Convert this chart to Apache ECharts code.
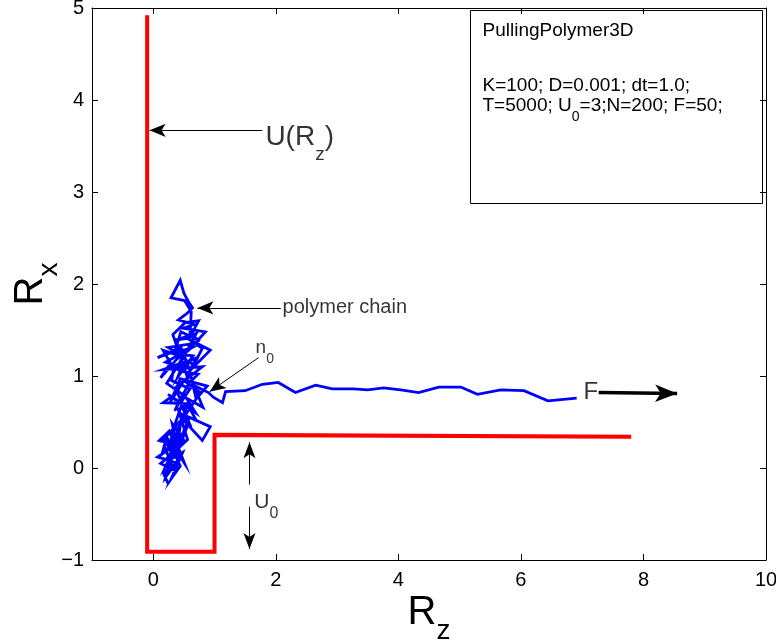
<!DOCTYPE html>
<html>
<head>
<meta charset="utf-8">
<script src="https://cdn.jsdelivr.net/npm/echarts@6/dist/echarts.min.js"></script>
<style>
  html, body { margin: 0; padding: 0; background: #fff; }
  #chart { width: 776px; height: 640px; }
</style>
</head>
<body>
<div id="chart"></div>
<script>
const FONT = '"Liberation Sans", Arial, Helvetica, sans-serif';

// Axis ticks
const xTicks = [0, 2, 4, 6, 8, 10];

// Potential profile U(Rz): wall, well floor, step, plateau
const wellZ = [-0.1, -0.1, 1.0, 1.0, 7.8];
const wellX = [4.92, -0.91, -0.91, 0.36, 0.34];

// Polymer chain conformation: Rz and Rx of each monomer
const chainZ = [
  // coiled part inside the well
  0.25, 0.16, 0.36, 0.07, 0.30, 0.15, 0.22, 0.44, 0.29, 0.48,
  0.27, 0.41, 0.21, 0.46, 0.14, 0.37, 0.24, 0.53, 0.36, 0.43,
  0.18, 0.33, 0.12, 0.39, 0.26, 0.10, 0.34, 0.20, 0.42, 0.31,
  0.50, 0.28, 0.45, 0.40, 0.59, 0.93, 0.80, 0.52, 0.41, 0.56,
  0.37, 0.51, 0.31, 0.46, 0.62, 0.48, 0.70, 0.55,
  0.16, 0.39, 0.55, 0.77, 0.50, 0.28, 0.44, 0.88, 0.70, 0.61,
  0.34, 0.80, 0.16, 0.50, 0.40, 0.65, 0.28, 0.07, 0.45, 0.60,
  0.93, 0.55, 0.36, 0.70, 0.50, 0.24, 0.62,
  0.22, 0.48, 0.35, 0.58, 0.73, 0.46, 0.26, 0.12, 0.38, 0.58,
  0.85, 0.49, 0.66, 0.41, 0.55, 0.64, 0.58, 0.50, 0.44, 0.29,
  0.51, 0.62, 0.60, 0.76, 0.45, 0.35, 0.61, 0.20, 0.41, 0.71,
  0.55,
  0.32, 0.52, 0.74, 0.58, 0.80, 0.66, 0.42, 0.16, 0.33,
  0.30, 0.60, 0.45, 0.24, 0.69, 0.54, 0.81, 0.66, 0.90, 0.98,
  1.13, 1.18,
  // stretched part pulled by F
  1.50, 1.78, 2.04, 2.32, 2.65, 2.92, 3.27, 3.50, 3.76, 4.04,
  4.33, 4.66, 5.02, 5.29, 5.67, 6.05, 6.44, 6.91
];
const chainX = [
  -0.18, -0.05, 0.06, 0.12, 0.22, 0.17, 0.34, 0.02, -0.12, 0.17,
  0.09, 0.33, 0.03, 0.26, 0.29, 0.46, 0.22, 0.41, 0.12, 0.35,
  0.24, -0.02, 0.05, 0.20, 0.40, 0.30, 0.28, -0.10, 0.10, 0.48,
  0.30, 0.16, 0.52, 0.24, 0.55, 0.45, 0.30, 0.50, 0.63, 0.31,
  0.19, 0.05, 0.39, 0.68, 0.44, 0.58, 0.52, 0.70,
  0.71, 0.82, 0.60, 0.82, 0.95, 0.72, 0.97, 0.89, 0.75, 1.01,
  0.86, 1.10, 1.07, 1.15, 0.99, 1.22, 1.25, 1.20, 1.31, 1.06,
  1.28, 1.41, 1.39, 1.46, 1.21, 1.31, 1.35,
  0.92, 0.80, 0.62, 0.92, 1.02, 1.05, 1.12, 0.98, 1.18, 1.28,
  1.48, 1.52, 1.56, 1.61, 1.68, 1.74, 1.80, 1.90, 2.04, 1.85,
  1.82, 1.70, 1.46, 1.38, 1.48, 1.26, 1.30, 1.15, 1.10, 1.20,
  1.00,
  1.45, 1.58, 1.60, 1.40, 1.30, 1.12, 1.22, 1.28, 1.08,
  0.95, 0.86, 0.71, 0.80, 0.60, 0.76, 0.66, 0.90, 0.82, 0.77,
  0.71, 0.83,
  0.84, 0.91, 0.93, 0.82, 0.90, 0.86, 0.86, 0.85, 0.87, 0.85,
  0.82, 0.88, 0.88, 0.80, 0.85, 0.84, 0.73, 0.76
];

// Annotation arrows: tail -> head (data coordinates)
const arrowFrom = [[1.78, 3.67], [2.08, 1.74], [1.72, 1.20], [7.27, 0.82], [1.57, -0.18], [1.57, -0.42]];
const arrowTo   = [[-0.06, 3.67], [0.72, 1.74], [0.92, 0.83], [8.55, 0.81], [1.57, 0.28], [1.57, -0.88]];

// Annotation texts and their anchor points
const noteText = ['{m|U(R}{s|z}{m|)}', '{m|polymer chain}', '{m|n}{s|0}', '{m|F}', '{m|U}{s|0}'];
const notePos  = [[1.83, 3.60], [2.11, 1.74], [1.67, 1.31], [7.02, 0.82], [1.65, -0.37]];

// Parameter box text
const boxTitle = 'PullingPolymer3D';
const boxLine1 = 'K=100; D=0.001; dt=1.0;';
const boxLine2 = '{t|T=5000; U}{s|0}{t|=3;N=200; F=50;}';

const chainData = chainZ.map((z, i) => [z, chainX[i]]);
const wellData = wellZ.map((z, i) => [z, wellX[i]]);

// Rich-text styles: main glyph size, subscript size, subscript drop
function richStyles(main, sub, drop) {
  return {
    m: { fontSize: main, fontFamily: FONT, color: '#000', lineHeight: main, verticalAlign: 'top' },
    s: { fontSize: sub, fontFamily: FONT, color: '#000', lineHeight: sub, verticalAlign: 'top', padding: [drop, 0, 0, 0] }
  };
}

const noteStyle = [[28, 19, 22], [20, 14, 0], [19, 14, 14], [24, 16, 0], [21, 16, 14]];

const noteData = noteText.map((t, i) => ({
  value: notePos[i],
  label: { formatter: t, rich: richStyles(...noteStyle[i]) }
}));

// Arrow stroke widths and head sizes
const arrowWidth = [1, 1, 1, 3.5, 1, 1];
const arrowHead  = [[10, 16], [10, 16], [10, 16], [13, 22], [9, 16], [9, 16]];

const arrowLines = arrowFrom.map((p, i) => [
  { coord: p, symbol: 'none' },
  { coord: arrowTo[i], symbol: 'arrow', symbolSize: arrowHead[i],
    lineStyle: { color: '#000', width: arrowWidth[i], type: 'solid' } }
]);

const axisLineStyle = { show: true, onZero: false, lineStyle: { color: '#000', width: 1 } };
const minusFmt = v => String(v).replace('-', '\u2212');

const chart = echarts.init(document.getElementById('chart'), null, { renderer: 'canvas' });
chart.setOption({
  animation: false,
  backgroundColor: '#fff',
  grid: { left: 92, right: 10, top: 8, bottom: 80, containLabel: false, outerBoundsMode: 'none' },
  xAxis: [
    {
      type: 'value', min: -1, max: 10, position: 'bottom',
      axisLine: axisLineStyle,
      axisTick: { show: true, inside: true, length: 6, customValues: xTicks, lineStyle: { color: '#000' } },
      axisLabel: { customValues: xTicks, color: '#000', fontSize: 20, fontFamily: FONT, margin: 10, formatter: minusFmt },
      splitLine: { show: false },
      name: '{m|R}{s|z}',
      nameLocation: 'middle',
      nameGap: 33,
      nameMoveOverlap: false,
      nameTextStyle: { rich: richStyles(40, 28, 24) }
    },
    {
      type: 'value', min: -1, max: 10, position: 'top',
      axisLine: axisLineStyle,
      axisTick: { show: true, inside: true, length: 6, customValues: xTicks, lineStyle: { color: '#000' } },
      axisLabel: { show: false },
      splitLine: { show: false }
    }
  ],
  yAxis: [
    {
      type: 'value', min: -1, max: 5, interval: 1, position: 'left',
      axisLine: axisLineStyle,
      axisTick: { show: true, inside: true, length: 6, lineStyle: { color: '#000' } },
      axisLabel: { color: '#000', fontSize: 20, fontFamily: FONT, margin: 8, formatter: minusFmt },
      splitLine: { show: false },
      name: '{m|R}{s|x}',
      nameLocation: 'middle',
      nameGap: 41,
      nameRotate: 90,
      nameMoveOverlap: false,
      nameTextStyle: { rich: richStyles(40, 28, 24) }
    },
    {
      type: 'value', min: -1, max: 5, interval: 1, position: 'right',
      axisLine: axisLineStyle,
      axisTick: { show: true, inside: true, length: 6, lineStyle: { color: '#000' } },
      axisLabel: { show: false },
      splitLine: { show: false }
    }
  ],
  series: [
    {
      name: 'U(Rz)', type: 'line', data: wellData, showSymbol: false, symbol: 'none',
      lineStyle: { color: '#ff0000', width: 4, join: 'miter' }, z: 3
    },
    {
      name: 'chain', type: 'line', data: chainData, showSymbol: false, symbol: 'none',
      lineStyle: { color: '#0000ff', width: 2.8, join: 'miter' }, z: 4
    },
    {
      name: 'arrows', type: 'line', data: [], z: 5,
      markLine: {
        silent: true, animation: false,
        label: { show: false },
        emphasis: { disabled: true },
        lineStyle: { color: '#000', width: 1, type: 'solid' },
        data: arrowLines
      }
    },
    {
      name: 'notes', type: 'scatter', data: noteData, symbolSize: 0, z: 6, silent: true,
      label: { show: true, position: 'right', distance: 0, align: 'left', verticalAlign: 'middle' }
    }
  ],
  graphic: [
    {
      type: 'group', left: 470, top: 10,
      children: [
        { type: 'rect', shape: { x: 0, y: 0, width: 292, height: 193 }, style: { fill: '#fff', stroke: '#000', lineWidth: 1 } },
        { type: 'text', x: 12, y: 20, style: { text: boxTitle, font: '19px ' + FONT, fill: '#000', verticalAlign: 'middle' } },
        { type: 'text', x: 12, y: 75, style: { text: boxLine1, font: '19px ' + FONT, fill: '#000', verticalAlign: 'middle' } },
        { type: 'text', x: 12, y: 95.5, style: { text: boxLine2, fill: '#000', verticalAlign: 'middle', rich: {
            t: { fontSize: 19, fontFamily: FONT, color: '#000', lineHeight: 19, verticalAlign: 'top' },
            s: { fontSize: 14, fontFamily: FONT, color: '#000', lineHeight: 14, verticalAlign: 'top', padding: [14, 0, 0, 0] }
          } } }
      ]
    }
  ]
});
</script>
</body>
</html>
